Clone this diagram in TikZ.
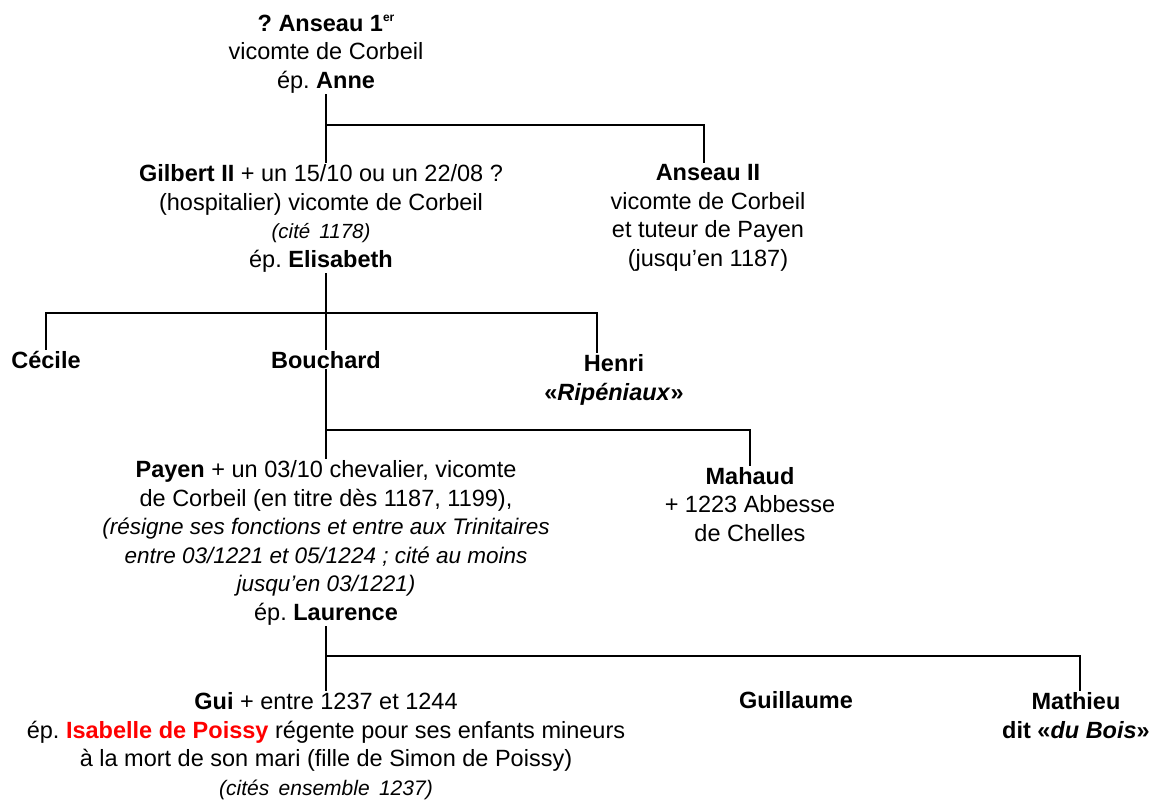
\documentclass[tikz,border=0pt]{standalone}
\usepackage{fontspec}
\setmainfont{Liberation Sans}
\frenchspacing
\definecolor{isared}{RGB}{255,0,0}
\newcommand{\supsmall}[1]{\raisebox{0.75ex}{\fontsize{12}{12}\selectfont #1}}
\begin{document}
\begin{tikzpicture}[x=1pt,y=-1pt,
  person/.style={align=center, anchor=base, inner sep=1pt, font=\fontsize{23.5}{28.5}\selectfont},
  link/.style={line width=2.5pt}]
\useasboundingbox (0,0) rectangle (1149,801);
% nodes (anchor = baseline of the last line)
\node[person] (top) at (326,88) {\textbf{? Anseau 1\supsmall{er}}\\vicomte de Corbeil\\ép. \textbf{Anne}};
\node[person] (gil) at (321,267) {\textbf{Gilbert II} + un 15/10 ou un 22/08 ?\\(hospitalier) vicomte de Corbeil\\{\fontsize{20.5}{28.5}\selectfont\itshape (cité\, 1178)}\\ép. \textbf{Elisabeth}};
\node[person] (ans) at (708,266) {\textbf{Anseau II}\\vicomte de Corbeil\\et tuteur de Payen\\(jusqu’en 1187)};
\node[person] (cec) at (46,368) {\textbf{Cécile}};
\node[person] (bou) at (326,368) {\textbf{Bouchard}};
\node[person] (hen) at (614,400) {\textbf{Henri}\\\textbf{«\textit{Ripéniaux}»}};
\node[person] (pay) at (326,620) {\textbf{Payen} + un 03/10 chevalier, vicomte\\de Corbeil (en titre dès 1187, 1199),\\{\fontsize{22.5}{28.5}\selectfont\itshape (résigne ses fonctions et entre aux Trinitaires}\\{\fontsize{22.5}{28.5}\selectfont\itshape entre 03/1221 et 05/1224 ; cité au moins}\\{\fontsize{22.5}{28.5}\selectfont\itshape jusqu’en 03/1221)}\\ép. \textbf{Laurence}};
\node[person] (mah) at (750,541) {\textbf{Mahaud}\\+ 1223 Abbesse\\de Chelles};
\node[person] (gui) at (326,795) {\textbf{Gui} + entre 1237 et 1244\\ép. \textcolor{isared}{\textbf{Isabelle de Poissy}} régente pour ses enfants mineurs\\à la mort de son mari (fille de Simon de Poissy)\\{\fontsize{21}{28.5}\selectfont\itshape (cités\, ensemble\, 1237)}};
\node[person] (gul) at (796,708) {\textbf{Guillaume}};
\node[person] (mat) at (1076,738) {\textbf{Mathieu}\\\textbf{dit «\textit{du Bois}»}};
% junctions
\coordinate (j1) at (326,125);
\coordinate (j2) at (326,313);
\coordinate (j3) at (326,430);
\coordinate (j4) at (326,656);
% connectors
\draw[link] (top.south) -- (top.south |- gil.north);
\draw[link] (j1) -| ([xshift=-4pt]ans.north);
\draw[link] (gil.south -| j2) -- (j2 |- bou.north);
\draw[link] (cec.north) |- (j2) -| ([xshift=-17pt]hen.north);
\draw[link] (bou.south) -- (bou.south |- pay.north);
\draw[link] (j3) -| (mah.north);
\draw[link] (pay.south -| j4) -- (j4 |- gui.north);
\draw[link] (j4) -| ([xshift=4pt]mat.north);
\end{tikzpicture}
\end{document}
